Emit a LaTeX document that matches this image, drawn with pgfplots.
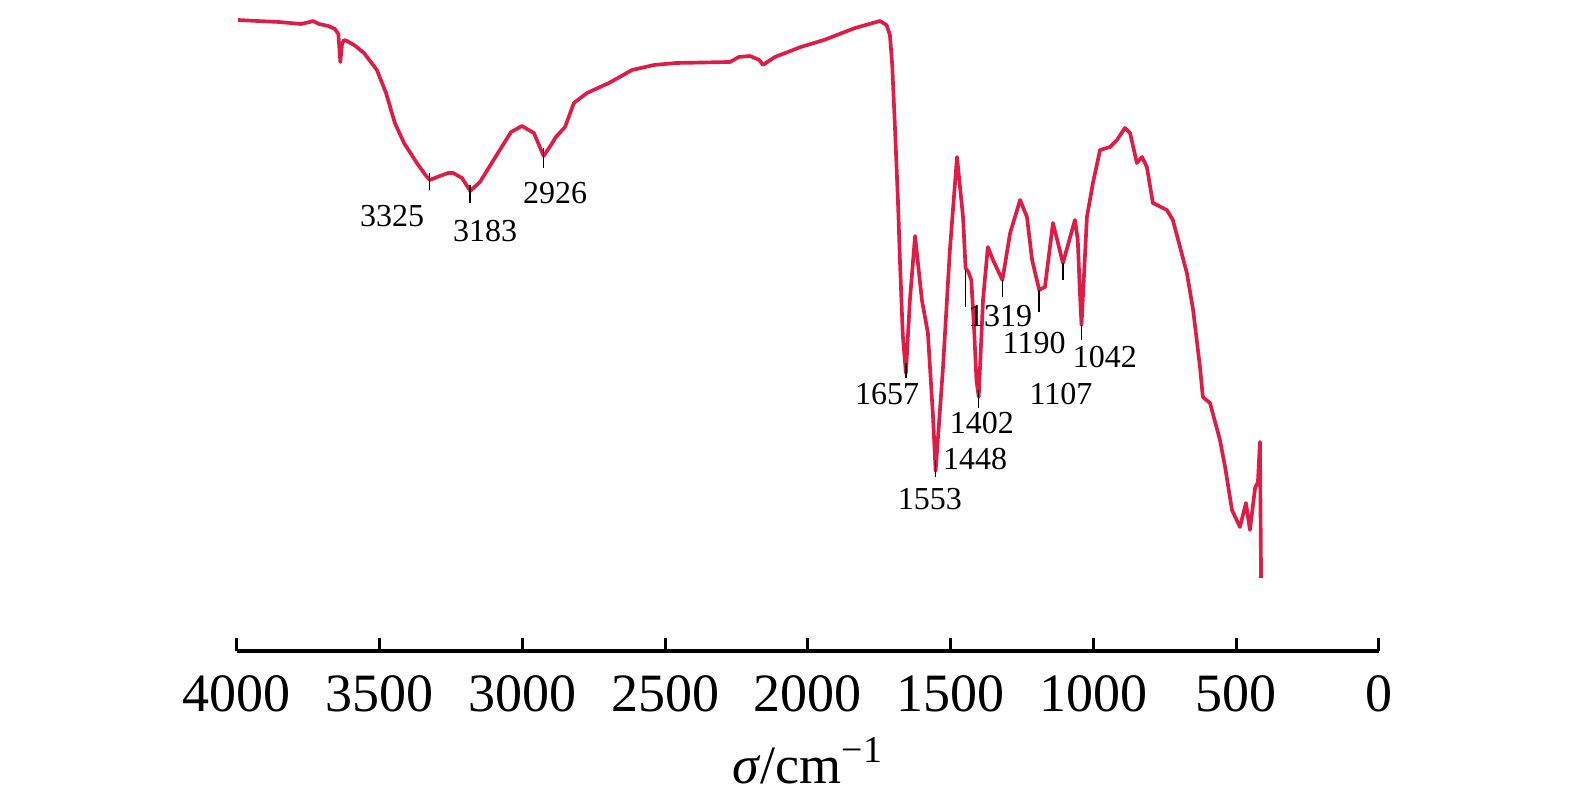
\documentclass[border=0pt]{standalone}
\usepackage{pgfplots}
\pgfplotsset{compat=1.18}
\usepackage{fontspec}
\setmainfont{Liberation Serif}
\definecolor{curve}{RGB}{222,28,70}
\pgfplotstableread{
w y
3996 -20
3930 -21
3853 -22
3776 -24
3745 -22
3734 -21
3713 -24
3680 -26
3657 -29
3645 -34
3638 -62
3632 -44
3625 -40
3615 -41
3590 -45
3555 -53
3510 -70
3478 -93
3447 -123
3415 -143
3370 -163
3340 -175
3325 -180
3289 -176
3260 -173
3243 -173
3212 -178
3183 -191
3149 -182
3086 -153
3040 -132
3002 -126
2960 -133
2926 -156
2900 -145
2883 -137
2851 -127
2820 -103
2774 -93
2697 -83
2616 -70
2539 -65
2462 -63
2273 -62
2242 -57
2203 -56
2170 -60
2158 -65
2116 -57
2025 -47
1944 -40
1835 -28
1748 -21
1725 -25
1713 -35
1705 -65
1695 -130
1685 -200
1678 -260
1668 -335
1657 -373
1643 -300
1625 -236
1601 -300
1580 -333
1562 -417
1553 -471
1527 -367
1503 -250
1478 -157
1457 -217
1448 -268
1438 -272
1428 -280
1418 -330
1410 -380
1402 -397
1387 -300
1370 -247
1352 -260
1319 -280
1292 -233
1257 -200
1233 -217
1215 -260
1190 -290
1170 -287
1142 -223
1107 -263
1065 -220
1055 -240
1048 -290
1042 -325
1023 -217
1002 -183
977 -150
942 -147
918 -140
890 -128
872 -133
848 -163
830 -157
813 -167
792 -203
743 -210
722 -220
697 -247
673 -273
651 -310
627 -367
617 -397
592 -403
557 -440
539 -467
515 -510
487 -527
466 -503
452 -530
434 -488
424 -482
417 -442
413 -578
}\spectrum
\begin{document}
\begin{tikzpicture}
\path[use as bounding box] (-71.1pt,-45pt) rectangle (401.4pt,195.3pt);
\begin{axis}[
  at={(0,0)}, anchor=south west,
  scale only axis, width=342.6pt, height=190.8pt,
  xmin=0, xmax=4000, ymin=-651, ymax=-15,
  x dir=reverse, clip=false,
  axis x line*=bottom, axis y line=none,
  axis line style={line width=1.2pt, black},
  xtick={0,500,...,4000},
  tick align=inside,
  major tick length=3.9pt,
  major tick style={line width=0.9pt, black},
  /pgf/number format/assume math mode=true,
  /pgf/number format/1000 sep={},
  xticklabel style={anchor=north, inner sep=0pt, yshift=-7.2pt,
    font=\fontsize{16.2}{18}\selectfont},
  xlabel={\textit{σ}/cm\textsuperscript{−1}},
  x label style={at={(axis description cs:0.5,0)}, anchor=base, yshift=-39.6pt,
    font=\fontsize{16.2}{18}\selectfont},
]
\addplot[curve, line width=1.1pt, line join=round] table[x=w, y=y] {\spectrum};
\addplot[black, line width=0.45pt, unbounded coords=jump] coordinates {
(3325,-173) (3325,-190) (3325,nan)
(3183,-185) (3183,-203) (3183,nan)
(2926,-148) (2926,-168) (2926,nan)
(1657,-363) (1657,-378) (1657,nan)
(1553,-460) (1553,-477) (1553,nan)
(1448,-270) (1448,-307) (1448,nan)
(1402,-390) (1402,-408) (1402,nan)
(1319,-280) (1319,-297) (1319,nan)
(1190,-290) (1190,-312) (1190,nan)
(1107,-263) (1107,-280) (1107,nan)
(1042,-325) (1042,-340)
};
\begin{scope}[every node/.style={inner sep=0pt, anchor=center, font=\fontsize{9.6}{11}\selectfont}]
\node at (axis cs:3457,-216) {3325};
\node at (axis cs:3131,-231) {3183};
\node at (axis cs:2886,-193) {2926};
\node at (axis cs:1723,-394) {1657};
\node at (axis cs:1573,-499) {1553};
\node at (axis cs:1415,-459) {1448};
\node at (axis cs:1391,-423) {1402};
\node at (axis cs:1327,-316) {1319};
\node at (axis cs:1208,-343) {1190};
\node at (axis cs:1114,-394) {1107};
\node at (axis cs:960,-357) {1042};
\end{scope}
\end{axis}
\end{tikzpicture}
\end{document}
